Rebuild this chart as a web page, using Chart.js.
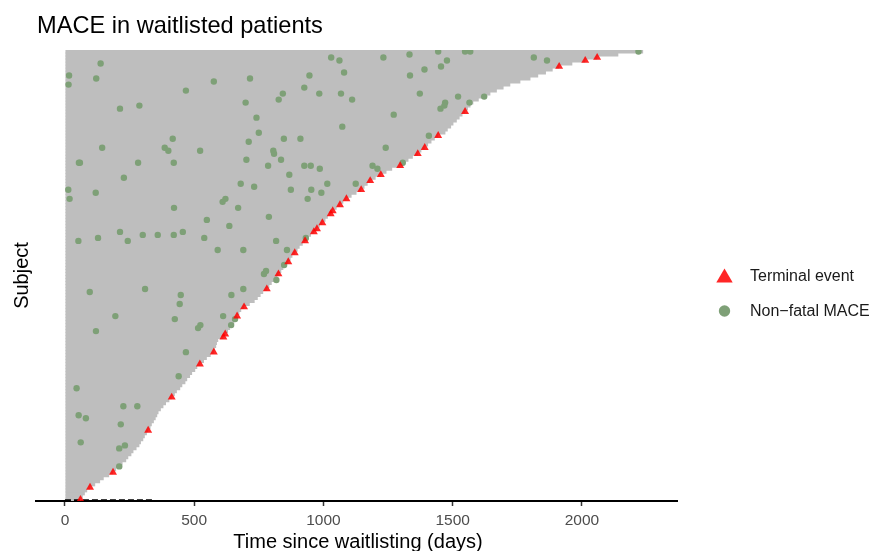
<!DOCTYPE html>
<html>
<head>
<meta charset="utf-8">
<script src="https://cdn.jsdelivr.net/npm/chart.js@4/dist/chart.umd.min.js"></script>
<style>
  html, body { margin: 0; padding: 0; background: #ffffff; }
  #wrap { width: 874px; height: 551px; }
</style>
</head>
<body>
<div id="wrap"><canvas id="chart" width="874" height="551"></canvas></div>
<script>
// Follow-up time (days) for each subject, sorted from shortest (subject 1) to longest
const followUpDays = [
  60, 69, 77, 86, 97, 117, 136, 150, 171, 186,
  198, 214, 223, 237, 245, 257, 265, 277, 288, 294,
  303, 309, 317, 322, 331, 336, 344, 351, 357, 362,
  371, 381, 391, 404, 413, 425, 433, 446, 454, 466,
  473, 484, 492, 504, 512, 522, 538, 549, 564, 576,
  579, 585, 588, 593, 613, 620, 631, 639, 648, 655,
  661, 666, 675, 682, 693, 715, 734, 746, 757, 767,
  781, 791, 800, 819, 822, 826, 837, 845, 856, 864,
  873, 880, 889, 900, 908, 920, 929, 941, 952, 963,
  975, 986, 996, 1008, 1017, 1028, 1036, 1051, 1064, 1077,
  1089, 1109, 1128, 1146, 1159, 1171, 1181, 1202, 1222, 1244,
  1266, 1297, 1313, 1329, 1346, 1365, 1379, 1392, 1405, 1418,
  1431, 1444, 1472, 1481, 1494, 1503, 1516, 1527, 1538, 1548,
  1559, 1569, 1580, 1601, 1628, 1646, 1671, 1697, 1723, 1762,
  1801, 1831, 1861, 1887, 1912, 1963, 2013, 2059, 2141, 2237
];

// Subjects whose follow-up ended with a terminal event
const terminalSubjects = [
  1, 5, 10, 24, 35, 46, 50, 55, 56, 62, 65, 71, 76, 80, 83, 87, 90, 91, 93,
  96, 97, 99, 101, 104, 107, 109, 112, 116, 118, 122, 130, 145, 147, 148
];

// Non-fatal MACE: subject and day of each event
const maceSubject = [
  146, 142, 139, 141, 137, 140, 141, 133, 128, 123, 120, 114, 131, 132, 121, 118, 117, 117, 118, 113,
  113, 113, 113, 108, 104, 101, 103, 98, 106, 105, 101, 100, 98, 94, 92, 87, 88, 90, 87, 89,
  89, 89, 90, 88, 148, 147, 148, 149, 150, 150, 150, 147, 143, 142, 138, 136, 134, 136, 136, 134,
  144, 145, 142, 136, 135, 133, 131, 132, 133, 135, 129, 125, 121, 121, 117, 116, 114, 112, 112, 112,
  111, 109, 118, 122, 112, 111, 113, 104, 104, 103, 106, 101, 106, 95, 87, 148, 147, 150, 84, 84,
  76, 77, 70, 71, 69, 66, 69, 71, 62, 61, 59, 58, 62, 61, 59, 57, 50, 42, 38, 32,
  32, 29, 28, 26, 84, 74, 79, 88, 20, 18, 19, 12
];
const maceDay = [
  138, 16, 14, 121, 468, 576, 716, 699, 741, 750, 711, 702, 213, 288, 417, 386, 400, 523, 144, 54,
  58, 283, 421, 228, 13, 18, 119, 422, 680, 732, 621, 610, 670, 549, 636, 52, 128, 213, 243, 301,
  359, 421, 456, 539, 1030, 1062, 1232, 1333, 1444, 1548, 1568, 1478, 1080, 946, 926, 843, 827, 984, 1068, 1111,
  1391, 1455, 1335, 1373, 1521, 1471, 1453, 1468, 1565, 1622, 1272, 1073, 847, 911, 806, 809, 836, 786, 926, 951,
  986, 868, 1241, 1408, 1190, 1209, 1307, 874, 953, 992, 1015, 939, 1125, 789, 817, 1814, 1865, 2219, 591, 690,
  770, 778, 96, 310, 448, 444, 644, 690, 195, 425, 524, 515, 612, 658, 643, 120, 468, 440, 45, 226,
  280, 53, 81, 216, 859, 818, 848, 932, 61, 210, 232, 210
];

// Short dashed segment along the baseline (days)
const baselineDashDays = [0, 345];

const xTickValues = [0, 500, 1000, 1500, 2000];

const TITLE = 'MACE in waitlisted patients';
const X_TITLE = 'Time since waitlisting (days)';
const Y_TITLE = 'Subject';
const LEGEND_LABELS = ['Terminal event', 'Non\u2212fatal MACE'];

const FONT = '"Liberation Sans", Arial, Helvetica, sans-serif';
const GREY_BAR = '#bebebe';
const RED = 'rgba(255,0,0,0.85)';
const GREEN = '#7ea077';

const subjectCount = followUpDays.length;

const barData = followUpDays.map((d, k) => ({ x: d, y: k + 1 }));
const terminalData = terminalSubjects.map(s => ({ x: followUpDays[s - 1], y: s }));
const maceData = maceSubject.map((s, k) => ({ x: maceDay[k], y: s }));
const dashData = baselineDashDays.map(d => ({ x: d, y: 0.75 }));

// Title, axis titles and the legend on the right
const textLayer = {
  id: 'textLayer',
  afterDraw(chart) {
    const ctx = chart.ctx;
    const a = chart.chartArea;
    ctx.save();
    ctx.fillStyle = '#000000';
    ctx.textBaseline = 'alphabetic';

    ctx.font = '23.6px ' + FONT;
    ctx.textAlign = 'left';
    ctx.fillText(TITLE, 37, 33);

    ctx.font = '20px ' + FONT;
    ctx.textAlign = 'center';
    ctx.fillText(X_TITLE, (a.left + a.right) / 2 + 1.5, 548);

    ctx.save();
    ctx.translate(28, (a.top + a.bottom) / 2);
    ctx.rotate(-Math.PI / 2);
    ctx.fillText(Y_TITLE, 0, 0);
    ctx.restore();

    // legend keys
    const kx = 724.5;
    ctx.fillStyle = RED;
    ctx.beginPath();
    ctx.moveTo(kx, 268.5);
    ctx.lineTo(kx + 8.2, 282.5);
    ctx.lineTo(kx - 8.2, 282.5);
    ctx.closePath();
    ctx.fill();

    ctx.fillStyle = GREEN;
    ctx.beginPath();
    ctx.arc(kx, 311, 5.7, 0, Math.PI * 2);
    ctx.fill();

    ctx.fillStyle = '#1a1a1a';
    ctx.font = '16px ' + FONT;
    ctx.textAlign = 'left';
    ctx.textBaseline = 'middle';
    ctx.fillText(LEGEND_LABELS[0], 750, 277);
    ctx.fillText(LEGEND_LABELS[1], 750, 311.5);
    ctx.restore();
  }
};

new Chart(document.getElementById('chart'), {
  type: 'scatter',
  data: {
    datasets: [
      {
        type: 'scatter',
        label: LEGEND_LABELS[0],
        data: terminalData,
        pointStyle: 'triangle',
        pointRadius: 4.6,
        pointBorderWidth: 0,
        pointBackgroundColor: RED,
        pointBorderColor: RED,
        order: 0
      },
      {
        type: 'scatter',
        label: LEGEND_LABELS[1],
        data: maceData,
        pointStyle: 'circle',
        pointRadius: 3.2,
        pointBorderWidth: 0,
        pointBackgroundColor: GREEN,
        pointBorderColor: GREEN,
        order: 1
      },
      {
        type: 'line',
        data: dashData,
        borderColor: '#000000',
        borderWidth: 2,
        borderDash: [6, 3],
        pointRadius: 0,
        clip: false,
        order: 2
      },
      {
        type: 'bar',
        indexAxis: 'y',
        data: barData,
        backgroundColor: GREY_BAR,
        borderWidth: 0,
        inflateAmount: 0,
        barThickness: 3.8,
        order: 3
      }
    ]
  },
  options: {
    responsive: false,
    animation: false,
    devicePixelRatio: 1,
    layout: { padding: { top: 50, right: 197, left: 0, bottom: 0 } },
    plugins: {
      legend: { display: false },
      tooltip: { enabled: false },
      title: { display: false }
    },
    scales: {
      x: {
        type: 'linear',
        position: 'bottom',
        min: -112,
        max: 2368,
        offset: false,
        z: 1,
        afterFit(scale) { scale.height = 50; },
        afterBuildTicks(scale) { scale.ticks = xTickValues.map(v => ({ value: v })); },
        grid: {
          drawOnChartArea: false,
          drawTicks: true,
          tickLength: 5,
          tickColor: '#333333',
          tickWidth: 1.5,
          color: '#333333'
        },
        border: { display: true, color: '#000000', width: 2 },
        ticks: {
          color: '#4d4d4d',
          font: { family: FONT, size: 15.5 },
          padding: 5,
          maxRotation: 0,
          autoSkip: false,
          callback: v => String(v)
        }
      },
      y: {
        type: 'linear',
        min: 0.5,
        max: subjectCount + 0.5,
        offset: false,
        afterFit(scale) { scale.width = 36; },
        grid: { display: false },
        border: { display: false },
        ticks: { display: false }
      }
    }
  },
  plugins: [textLayer]
});
</script>
</body>
</html>
